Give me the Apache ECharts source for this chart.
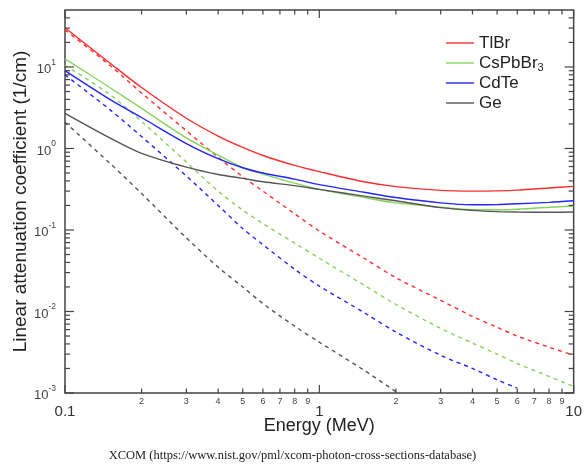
<!DOCTYPE html>
<html>
<head>
<meta charset="utf-8">
<script src="https://cdn.jsdelivr.net/npm/echarts@6/dist/echarts.min.js"></script>
<style>
  html, body { margin: 0; padding: 0; background: #fff; }
  #main { width: 585px; height: 464px; }
</style>
</head>
<body>
<div id="main"></div>
<script type="text/javascript">
// photon energy (MeV)
var energy = [0.1, 0.15, 0.2, 0.3, 0.4, 0.5, 0.6, 0.8, 1, 1.5, 2, 3, 4, 5, 6, 8, 10];

// total linear attenuation (1/cm) - solid lines
var tlbrTotal   = [30.3, 11.2, 5.6, 2.35, 1.42, 1.03, 0.82, 0.62, 0.52, 0.39, 0.34, 0.306, 0.30, 0.302, 0.308, 0.328, 0.343];
var cspbbrTotal = [12.6, 5.6, 3.1, 1.35, 0.83, 0.58, 0.485, 0.375, 0.315, 0.25, 0.215, 0.19, 0.177, 0.177, 0.18, 0.19, 0.197];
var cdteTotal   = [9.0, 4.0, 2.4, 1.15, 0.75, 0.58, 0.5, 0.42, 0.36, 0.29, 0.25, 0.215, 0.204, 0.205, 0.21, 0.218, 0.228];
var geTotal     = [2.7, 1.35, 0.87, 0.59, 0.48, 0.43, 0.39, 0.35, 0.315, 0.26, 0.228, 0.188, 0.174, 0.168, 0.166, 0.165, 0.166];

// photoelectric part (1/cm) - dashed lines
var tlbrPE   = [28.5, 10.5, 4.8, 1.65, 0.78, 0.45, 0.30, 0.158, 0.097, 0.045, 0.026, 0.0137, 0.0087, 0.0064, 0.0050, 0.00365, 0.0029];
var cspbbrPE = [10.5, 4.6, 2.15, 0.68, 0.30, 0.175, 0.12, 0.069, 0.045, 0.021, 0.0122, 0.0062, 0.0041, 0.003, 0.0023, 0.0016, 0.0012];
var cdtePE   = [8.0, 3.0, 1.4, 0.46, 0.20, 0.104, 0.066, 0.033, 0.0205, 0.0097, 0.0056, 0.0029, 0.002, 0.00145, 0.00115, null, null];
var gePE     = [2.1, 0.66, 0.28, 0.08, 0.035, 0.020, 0.0125, 0.0066, 0.0042, 0.0019, 0.00104, null, null, null, null, null, null];

// tick positions
var xMajorTicks = [0.1, 1, 10];
var xMinorTicks = [0.2, 0.3, 0.4, 0.5, 0.6, 0.7, 0.8, 0.9, 2, 3, 4, 5, 6, 7, 8, 9];
var yMajorTicks = [0.001, 0.01, 0.1, 1, 10];
var yMinorTicks = [0.002, 0.003, 0.004, 0.005, 0.006, 0.007, 0.008, 0.009,
                   0.02, 0.03, 0.04, 0.05, 0.06, 0.07, 0.08, 0.09,
                   0.2, 0.3, 0.4, 0.5, 0.6, 0.7, 0.8, 0.9,
                   2, 3, 4, 5, 6, 7, 8, 9, 20, 30, 40];

var materials = ['TlBr', 'CsPbBr3', 'CdTe', 'Ge'];
var colors = ['#ff2d2d', '#86d35e', '#2424ff', '#555555'];
var totals = [tlbrTotal, cspbbrTotal, cdteTotal, geTotal];
var pes = [tlbrPE, cspbbrPE, cdtePE, gePE];

var FONT = '"Liberation Sans", Arial, Helvetica, sans-serif';
var AXIS_COLOR = '#444';

function pairs(arr) {
    return energy.map(function (e, i) { return [e, arr[i]]; });
}

var myChart = echarts.init(document.getElementById('main'));

var series = [];
materials.forEach(function (m, i) {
    series.push({
        name: m,
        type: 'line',
        data: pairs(totals[i]),
        symbol: 'none',
        smooth: 0.3,
        lineStyle: { color: colors[i], width: 1.4 },
        itemStyle: { color: colors[i] },
        z: 3
    });
    series.push({
        name: m + ' photoelectric',
        type: 'line',
        data: pairs(pes[i]),
        symbol: 'none',
        smooth: 0.3,
        lineStyle: { color: colors[i], width: 1.4, type: [4, 4] },
        itemStyle: { color: colors[i] },
        z: 2
    });
});

// tick marks on all four sides (inward), plus the small 2..9 labels under the x axis
function xTickItem(major) {
    return function (params, api) {
        var cs = params.coordSys;
        var x = api.coord([api.value(0), 1])[0];
        var len = major ? 8 : 4.5;
        var bottom = cs.y + cs.height;
        var style = { stroke: AXIS_COLOR, lineWidth: 1.2 };
        var children = [
            { type: 'line', shape: { x1: x, y1: bottom, x2: x, y2: bottom - len }, style: style },
            { type: 'line', shape: { x1: x, y1: cs.y, x2: x, y2: cs.y + len }, style: style }
        ];
        if (!major) {
            var v = api.value(0);
            children.push({
                type: 'text',
                style: {
                    text: String(v < 1 ? Math.round(v * 10) : v),
                    x: x, y: bottom + 4,
                    align: 'center', verticalAlign: 'top',
                    fontSize: 9, fontFamily: FONT, fill: '#444'
                }
            });
        }
        return { type: 'group', children: children };
    };
}
function yTickItem(major) {
    return function (params, api) {
        var cs = params.coordSys;
        var y = api.coord([1, api.value(1)])[1];
        var len = major ? 9 : 5;
        var right = cs.x + cs.width;
        var style = { stroke: AXIS_COLOR, lineWidth: 1.2 };
        return {
            type: 'group',
            children: [
                { type: 'line', shape: { x1: cs.x, y1: y, x2: cs.x + len, y2: y }, style: style },
                { type: 'line', shape: { x1: right, y1: y, x2: right - len, y2: y }, style: style }
            ]
        };
    };
}

series.push(
    { type: 'custom', name: 'xMajor', silent: true, data: xMajorTicks.map(function (v) { return [v, 1]; }), renderItem: xTickItem(true), z: 5 },
    { type: 'custom', name: 'xMinor', silent: true, data: xMinorTicks.map(function (v) { return [v, 1]; }), renderItem: xTickItem(false), z: 5 },
    { type: 'custom', name: 'yMajor', silent: true, data: yMajorTicks.map(function (v) { return [1, v]; }), renderItem: yTickItem(true), z: 5 },
    { type: 'custom', name: 'yMinor', silent: true, data: yMinorTicks.map(function (v) { return [1, v]; }), renderItem: yTickItem(false), z: 5 }
);

var option = {
    animation: false,
    textStyle: { fontFamily: FONT },
    grid: {
        left: 65, right: 9, top: 10, bottom: 71,
        show: true,
        borderColor: AXIS_COLOR,
        borderWidth: 1.5,
        backgroundColor: '#fff'
    },
    legend: {
        data: materials,
        orient: 'vertical',
        left: 441,
        top: 28,
        itemWidth: 28,
        itemHeight: 14,
        itemGap: 0,
        icon: 'path://M0,0 L28,0 L28,1.4 L0,1.4 Z',
        formatter: function (name) {
            return name === 'CsPbBr3' ? 'CsPbBr{sub|3}' : name;
        },
        textStyle: {
            fontSize: 17,
            color: '#222',
            lineHeight: 20,
            fontFamily: FONT,
            rich: {
                sub: { fontSize: 11, lineHeight: 20, verticalAlign: 'bottom', color: '#222', fontFamily: FONT }
            }
        }
    },
    xAxis: {
        type: 'log',
        logBase: 10,
        min: 0.1,
        max: 10,
        name: 'Energy (MeV)',
        nameLocation: 'middle',
        nameGap: 24,
        nameMoveOverlap: false,
        nameTextStyle: { fontSize: 18, color: '#222', fontFamily: FONT },
        axisLine: { show: false },
        axisTick: { show: false },
        splitLine: { show: false },
        axisLabel: {
            margin: 11,
            fontSize: 15,
            color: '#333',
            fontFamily: FONT,
            formatter: function (v) {
                var p = Math.round(Math.log10(v));
                if (Math.abs(Math.log10(v) - p) > 1e-6) return '';
                return p < 0 ? '0.1' : String(Math.pow(10, p));
            }
        }
    },
    yAxis: {
        type: 'log',
        logBase: 10,
        min: 0.001,
        max: 50,
        name: 'Linear attenuation coefficient (1/cm)',
        nameLocation: 'middle',
        nameGap: 35,
        nameMoveOverlap: false,
        nameTextStyle: { fontSize: 19, color: '#222', fontFamily: FONT },
        axisLine: { show: false },
        axisTick: { show: false },
        splitLine: { show: false },
        axisLabel: {
            margin: 9,
            color: '#444',
            fontFamily: FONT,
            formatter: function (v) {
                var l = Math.log10(v);
                var p = Math.round(l);
                if (Math.abs(l - p) > 1e-6) return '';
                return '{b|10}{sup|' + p + '}';
            },
            rich: {
                b: { fontSize: 13, lineHeight: 18, verticalAlign: 'bottom', color: '#444', fontFamily: FONT },
                sup: { fontSize: 8.5, lineHeight: 18, verticalAlign: 'top', color: '#444', fontFamily: FONT }
            }
        }
    },
    graphic: [{
        type: 'text',
        left: 'center',
        top: 449,
        style: {
            text: 'XCOM (https://www.nist.gov/pml/xcom-photon-cross-sections-database)',
            font: '12.5px "Liberation Serif", "Times New Roman", serif',
            fill: '#222'
        }
    }],
    series: series
};

myChart.setOption(option);
</script>
</body>
</html>
